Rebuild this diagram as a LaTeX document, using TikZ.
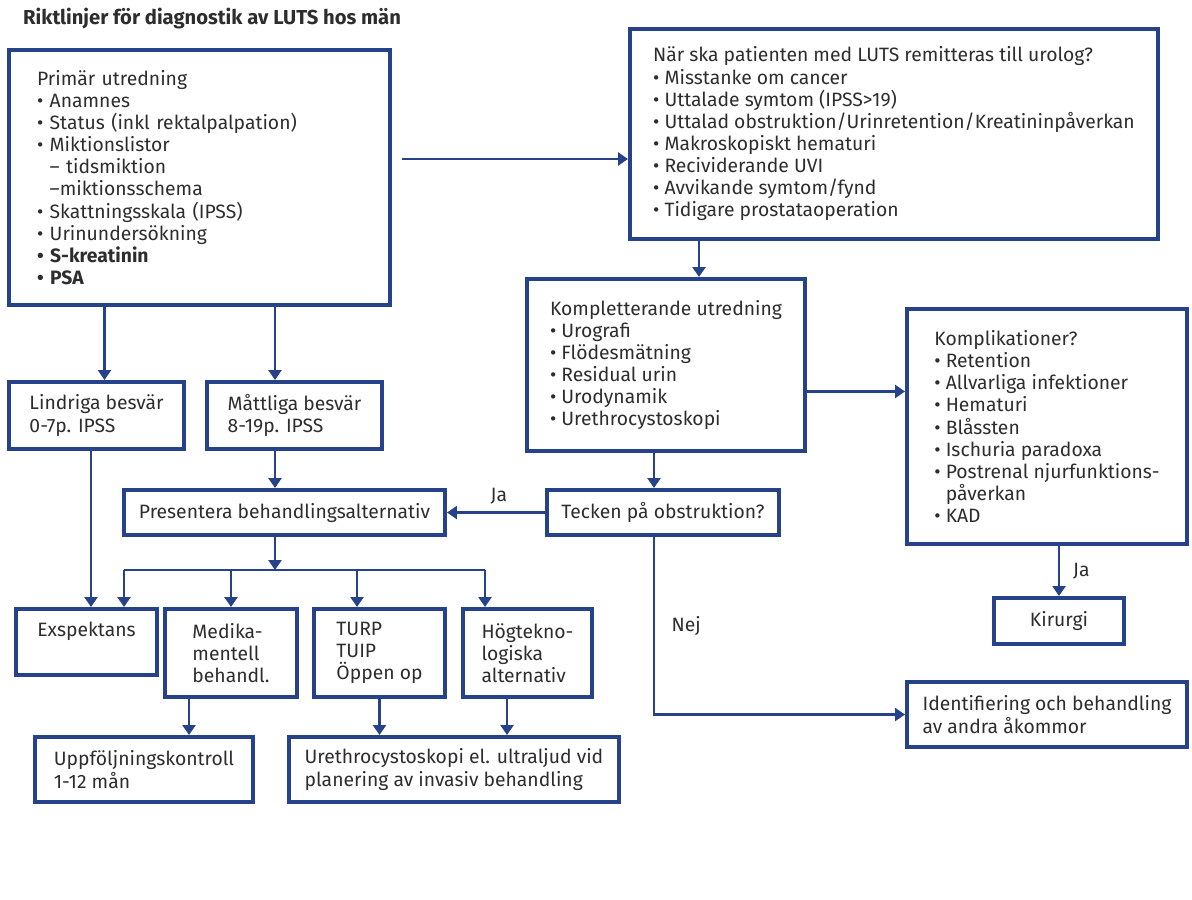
\documentclass[tikz,border=0pt]{standalone}
\usepackage{fontspec}
\setmainfont{Fira Sans}
\usetikzlibrary{arrows.meta,positioning}

\definecolor{navy}{RGB}{38,66,139}
\definecolor{ink}{RGB}{45,45,45}

\newcommand{\bl}{\textbullet\ }
\newcommand{\ind}{\hphantom{\textbullet\ }}

\begin{document}
\begin{tikzpicture}
[   x=0.02cm, y=-0.02cm,
    box/.style={draw=navy,line width=2.3pt,anchor=north west,inner xsep=0pt,inner ysep=2pt,align=left,text=ink,font=\fontsize{11}{12.6}\selectfont},
    line/.style={navy,line width=1.4pt},
    arr/.style={line,-{Triangle[width=0.26cm,length=0.2cm]}},
    lbl/.style={text=ink,font=\fontsize{11}{12.6}\selectfont}
]
    \useasboundingbox (0,0) rectangle (1192,899);
    \node[anchor=base west,text=ink,font=\fontsize{11.5}{13}\selectfont\bfseries] (title) at (17,24) {Riktlinjer för diagnostik av LUTS hos män};

    % first column
    \node[box,minimum width=7.62cm,minimum height=5.1cm,text width=6.5cm] (prim) at (7,48)
        {Primär utredning\\ \bl Anamnes\\ \bl Status (inkl rektalpalpation)\\ \bl Miktionslistor\\ \ind -- tidsmiktion\\ \ind --miktionsschema\\
         \bl Skattningsskala (IPSS)\\ \bl Urinundersökning\\ \textbf{\bl S-kreatinin}\\ \textbf{\bl PSA}};
    \node[box,minimum width=3.5cm,minimum height=1.34cm] (lind) at (7,380) {Lindriga besvär\\0-7p. IPSS};
    \node[box,minimum width=3.5cm,minimum height=1.34cm] (matt) at (205,380) {Måttliga besvär\\8-19p. IPSS};
    \node[box,minimum width=6.42cm,minimum height=0.9cm] (pres) at (122,488) {Presentera behandlingsalternativ};

    % treatments
    \node[box,minimum width=2.82cm,minimum height=1.32cm,text depth=0.5cm] (exsp) at (14,607) {Exspektans};
    \node[box,minimum width=2.64cm,minimum height=1.76cm] (medi) at (163,607) {Medika-\\mentell\\behandl.};
    \node[box,minimum width=2.62cm,minimum height=1.76cm] (turp) at (312,607) {TURP\\TUIP\\Öppen op};
    \node[box,minimum width=2.58cm,minimum height=1.76cm] (hog) at (461,607) {Högtekno-\\logiska\\alternativ};
    \node[box,minimum width=4.36cm,minimum height=1.3cm] (uppf) at (33,735) {Uppföljningskontroll\\1-12 mån};
    \node[box,minimum width=6.6cm,minimum height=1.3cm] (ureth) at (287,735) {Urethrocystoskopi el. ultraljud vid\\planering av invasiv behandling};

    % right part
    \node[box,minimum width=10.56cm,minimum height=4.2cm] (refer) at (628,27)
        {När ska patienten med LUTS remitteras till urolog?\\ \bl Misstanke om cancer\\ \bl Uttalade symtom (IPSS>19)\\ \bl Uttalad obstruktion/Urinretention/Kreatininpåverkan\\
         \bl Makroskopiskt hematuri\\ \bl Recividerande UVI\\ \bl Avvikande symtom/fynd\\ \bl Tidigare prostataoperation};
    \node[box,minimum width=5.56cm,minimum height=3.44cm] (kompl) at (525,277)
        {Kompletterande utredning\\ \bl Urografi\\ \bl Flödesmätning\\ \bl Residual urin\\ \bl Urodynamik\\ \bl Urethrocystoskopi};
    \node[box,minimum width=4.64cm,minimum height=0.9cm] (tecken) at (545,488) {Tecken på obstruktion?};
    \node[box,minimum width=5.6cm,minimum height=4.7cm] (kompli) at (905,307)
        {Komplikationer?\\ \bl Retention\\ \bl Allvarliga infektioner\\ \bl Hematuri\\ \bl Blåssten\\ \bl Ischuria paradoxa\\ \bl Postrenal njurfunktions-\\ \ind påverkan\\ \bl KAD};
    \node[box,minimum width=2.6cm,minimum height=0.92cm] (kir) at (992,596) {Kirurgi};
    \node[box,minimum width=5.6cm,minimum height=1.3cm] (ident) at (905,680) {Identifiering och behandling\\av andra åkommor};

    % connectors
    \coordinate (p1) at ([xshift=0.2cm,yshift=0.37cm]prim.east);
    \draw[arr] (p1) -- (p1 -| refer.west);
    \coordinate (k1) at ([xshift=0.66cm]kompl.north);
    \draw[arr] (k1 |- refer.south) -- (k1);
    \coordinate (k2) at ([yshift=-0.53cm]kompl.east);
    \draw[arr] (k2) -- (k2 -| kompli.west);
    \coordinate (l1) at ([xshift=0.16cm]lind.north);
    \draw[arr] (l1 |- prim.south) -- (l1);
    \coordinate (m1) at ([xshift=-0.39cm]matt.north);
    \draw[arr] (m1 |- prim.south) -- (m1);
    \draw[arr] (m1 |- matt.south) -- (m1 |- pres.north);
    \coordinate (l2) at ([xshift=-0.11cm]lind.south);
    \draw[arr] (l2) -- (l2 |- exsp.north);

    \coordinate (t1) at ([xshift=-0.18cm]tecken.north);
    \draw[arr] (t1 |- kompl.south) -- (t1);
    \draw[arr] (tecken.west) -- node[lbl,above=1pt,pos=0.47] {Ja} (tecken.west -| pres.east);
    \draw[arr] (t1 |- tecken.south) |- node[lbl,pos=0.25,right=6pt] {Nej} (ident.west);
    \draw[arr] (kir.north |- kompli.south) -- node[lbl,right=4pt] {Ja} (kir.north);

    \draw[arr] (m1 |- pres.south) -- ++(0,-0.66cm) coordinate (br);
    \foreach \n/\s in {exsp/0.75,medi/0,turp/-0.45,hog/-0.85}
    {
        \coordinate (b-\n) at ([xshift=\s cm]\n.north);
        \draw[arr] (b-\n |- br) -- (b-\n);
    }
    \draw[line] (b-exsp |- br) -- (b-hog |- br);

    \foreach \a/\b/\s in {medi/uppf/-0.84,turp/ureth/0,hog/ureth/-0.41}
    {
        \coordinate (d-\a) at ([xshift=\s cm]\a.south);
        \draw[arr] (d-\a) -- (d-\a |- \b.north);
    }
\end{tikzpicture}
\end{document}
